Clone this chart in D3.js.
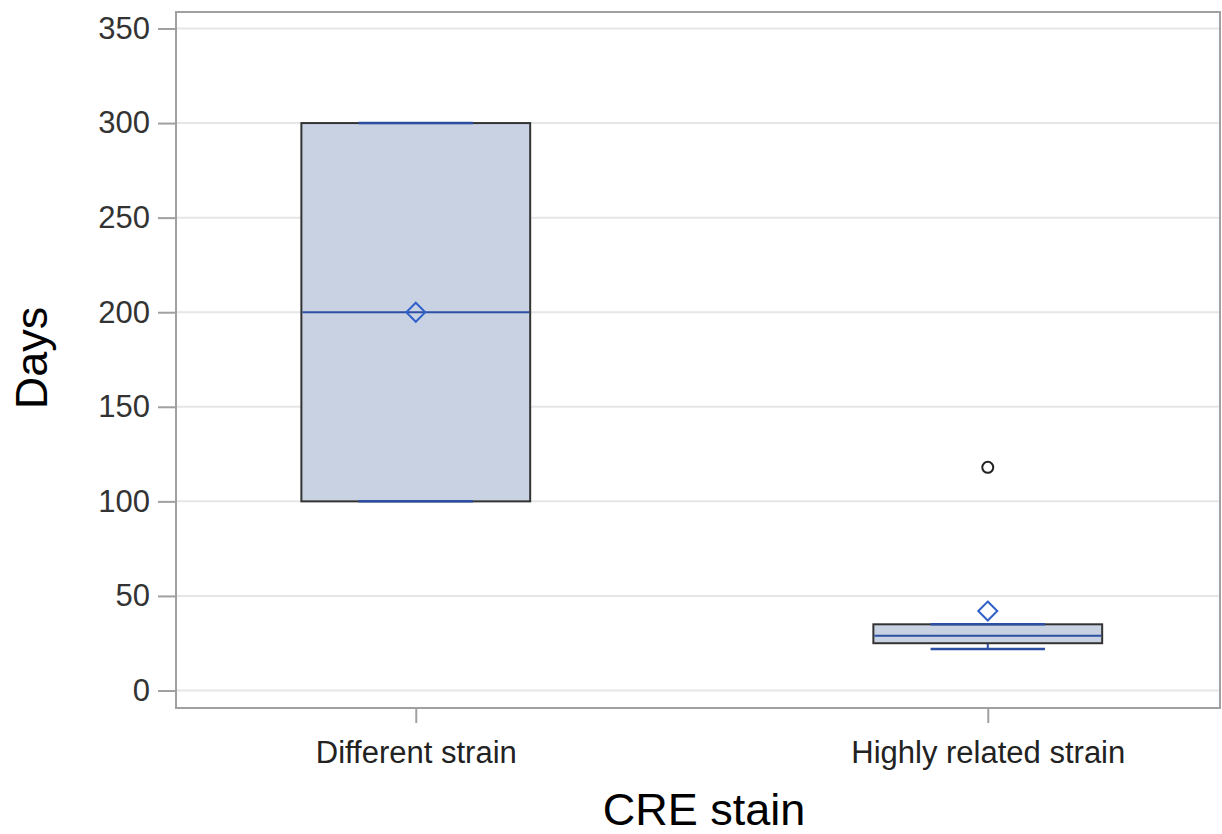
<!DOCTYPE html>
<html><head><meta charset="utf-8">
<script src="https://cdn.jsdelivr.net/npm/d3@7"></script>
<style>body{margin:0;background:#fff}svg{display:block}</style>
</head><body>
<script>
const categories = ["Different strain", "Highly related strain"];
const q1 = [100, 25];
const median = [200, 29];
const q3 = [300, 35];
const whiskerLow = [100, 22];
const whiskerHigh = [300, 35];
const means = [200, 42];
const outliers = [[], [118]];
const yTicks = [0, 50, 100, 150, 200, 250, 300, 350];

(function () {
const W = 1222, H = 834;
const pLeft = 176, pRight = 1220, pTop = 12, pBottom = 708;
const font = "Liberation Sans, Arial, sans-serif";
const svg = d3.select("body").append("svg").attr("width", W).attr("height", H);

const y = d3.scaleLinear().domain([0, 350]).range([690.5, 28.5]);
const x = d3.scalePoint().domain(categories).range([pLeft, pRight]).padding(0.4126).align(0.508);
const step = x.step();
const bw = step * 0.4;

svg.append("g").selectAll("line").data(yTicks).join("line")
  .attr("x1", pLeft).attr("x2", pRight)
  .attr("y1", d => y(d)).attr("y2", d => y(d))
  .attr("stroke", "#e6e6e6").attr("stroke-width", 2);

const yAxis = d3.axisLeft(y).tickValues(yTicks).tickSize(18).tickPadding(8);
const gy = svg.append("g").attr("transform", `translate(${pLeft},0)`).call(yAxis);
gy.select(".domain").remove();
gy.selectAll("line").attr("stroke", "#a0a0a0").attr("stroke-width", 2);
gy.selectAll("text").attr("font-family", font).attr("font-size", 31).attr("fill", "#333");

const xAxis = d3.axisBottom(x).tickSize(15).tickPadding(18);
const gx = svg.append("g").attr("transform", `translate(0,${pBottom})`).call(xAxis);
gx.select(".domain").remove();
gx.selectAll("line").attr("stroke", "#a0a0a0").attr("stroke-width", 2);
gx.selectAll("text").attr("font-family", font).attr("font-size", 31).attr("fill", "#222");

svg.append("rect").attr("x", pLeft).attr("y", pTop).attr("width", pRight - pLeft).attr("height", pBottom - pTop)
  .attr("fill", "none").attr("stroke", "#a0a0a0").attr("stroke-width", 2);

const blue = "#2c4fa3";
const g = svg.append("g");
categories.forEach((c, i) => {
  const cx = x(c);
  g.append("line").attr("x1", cx).attr("x2", cx).attr("y1", y(q3[i])).attr("y2", y(whiskerHigh[i])).attr("stroke", blue).attr("stroke-width", 2);
  g.append("line").attr("x1", cx).attr("x2", cx).attr("y1", y(q1[i])).attr("y2", y(whiskerLow[i])).attr("stroke", blue).attr("stroke-width", 2);
  g.append("rect").attr("x", cx - bw / 2).attr("y", y(q3[i])).attr("width", bw).attr("height", y(q1[i]) - y(q3[i]))
    .attr("fill", "#c9d2e3").attr("stroke", "#333").attr("stroke-width", 2);
  [whiskerLow[i], whiskerHigh[i]].forEach(v => {
    g.append("line").attr("x1", cx - bw / 4).attr("x2", cx + bw / 4).attr("y1", y(v)).attr("y2", y(v))
      .attr("stroke", blue).attr("stroke-width", 2.5);
  });
  g.append("line").attr("x1", cx - bw / 2 + 1).attr("x2", cx + bw / 2 - 1).attr("y1", y(median[i])).attr("y2", y(median[i]))
    .attr("stroke", blue).attr("stroke-width", 2);
  g.append("path").attr("d", d3.symbol(d3.symbolDiamond2, 230)())
    .attr("transform", `translate(${cx},${y(means[i])})`)
    .attr("fill", "none").attr("stroke", "#3060c8").attr("stroke-width", 2);
  outliers[i].forEach(v => {
    g.append("circle").attr("cx", cx).attr("cy", y(v)).attr("r", 5.5).attr("fill", "none").attr("stroke", "#222").attr("stroke-width", 2);
  });
});

svg.append("text").attr("x", (pLeft + pRight) / 2 + 6).attr("y", 825).attr("text-anchor", "middle")
  .attr("font-family", font).attr("font-size", 45).attr("fill", "#000").text("CRE stain");
svg.append("text").attr("transform", `translate(47,358) rotate(-90)`).attr("text-anchor", "middle")
  .attr("font-family", font).attr("font-size", 45).attr("fill", "#000").text("Days");
})();
</script>
</body></html>
